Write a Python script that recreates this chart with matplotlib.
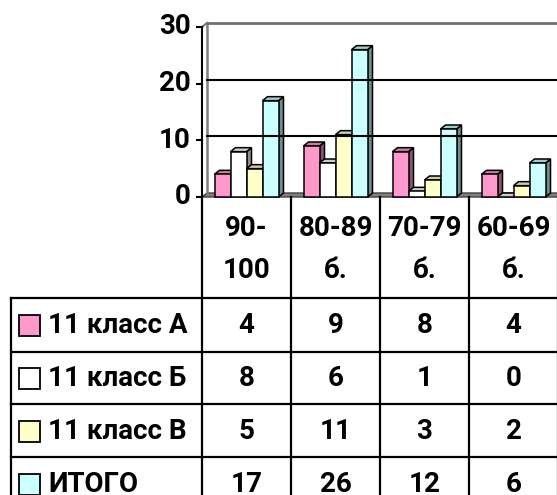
import matplotlib
matplotlib.use("Agg")
import matplotlib.pyplot as plt
from matplotlib.patches import Polygon, Rectangle

plt.rcParams['font.family'] = ['Roboto', 'DejaVu Sans']
plt.rcParams['font.weight'] = 'bold'

categories = ["90-\n100", "80-89\nб.", "70-79\nб.", "60-69\nб."]
series_names = ["11 класс А", "11 класс Б", "11 класс В", "ИТОГО"]
klass_a = [4, 9, 8, 4]
klass_b = [8, 6, 1, 0]
klass_v = [5, 11, 3, 2]
itogo = [17, 26, 12, 6]
colors = ["#FF99CC", "#FFFFFF", "#FFFFCC", "#CCFFFF"]
yticks = [0, 10, 20, 30]

series = [klass_a, klass_b, klass_v, itogo]
FS = 20

W, H = 557, 495
fig = plt.figure(figsize=(W / 100, H / 100), dpi=100)

# pixel geometry (top-left origin)
x_left, col_w = 202, 89
y0_px, y30_px = 197, 27
ax = fig.add_axes([x_left / W, 1 - y0_px / H, 4 * col_w / W, (y0_px - y30_px) / H])
ax.set_xlim(-0.5, 3.5)
ax.set_ylim(0, 30)
ax.axis('off')

px_x = 1 / col_w                  # data units per pixel, x
px_y = 30 / (y0_px - y30_px)      # data units per pixel, y
dx, dy = 5 * px_x, 4 * px_y


def shade(c, f):
    c = matplotlib.colors.to_rgb(c)
    return tuple(v * f for v in c)


# back wall and floor
wall_top = 30 + dy
ax.add_patch(Polygon([(-0.5, 0), (-0.5 + dx, dy), (3.6, dy), (3.6, 0)],
                     closed=True, fc="#808080", ec="#404040", lw=1.0, clip_on=False))
ax.plot([-0.5 + dx, -0.5 + dx], [dy, wall_top], color="#808080", lw=1.8, clip_on=False)
ax.plot([-0.5, -0.5 + dx], [30, wall_top], color="#808080", lw=1.5, clip_on=False)
ax.plot([-0.5 + dx, 3.6], [wall_top, wall_top], color="#707070", lw=2.0, clip_on=False)
for v in yticks[1:-1]:
    ax.plot([-0.5 + dx, 3.6], [v + dy, v + dy], color="black", lw=1.5, clip_on=False)

# front axis line and ticks
ax.plot([-0.5, -0.5], [0, 30], color="black", lw=1.5, clip_on=False)
for v in yticks:
    ax.plot([-0.5 - 5 * px_x, -0.5], [v, v], color="black", lw=1.5, clip_on=False)
    ax.text(-0.5 - 11 * px_x, v, str(v), ha='right', va='center',
            fontsize=FS, fontweight='bold')

# 3D bars
bw = 16 * px_x
for i in range(len(categories)):
    for j, vals in enumerate(series):
        x0 = i - 2 * bw + j * bw
        x1 = x0 + bw
        h = vals[i]
        c = colors[j]
        side = [(x1, 0), (x1 + dx, dy), (x1 + dx, h + dy), (x1, h)]
        top = [(x0, h), (x0 + dx, h + dy), (x1 + dx, h + dy), (x1, h)]
        ax.add_patch(Polygon(side, closed=True, fc=shade(c, 0.55), ec="black", lw=1.1, clip_on=False))
        ax.add_patch(Polygon(top, closed=True, fc=shade(c, 0.8), ec="black", lw=1.1, clip_on=False))
        if h > 0:
            ax.add_patch(Rectangle((x0, 0), bw, h, fc=c, ec="black", lw=1.1, clip_on=False))

# data table drawn in pixel coordinates
ov = fig.add_axes([0, 0, 1, 1])
ov.set_xlim(0, W)
ov.set_ylim(H, 0)
ov.axis('off')
ov.patch.set_alpha(0)

row_lines = [298, 352, 404, 457]
row_h = 53
col_x = [x_left + k * col_w for k in range(5)]
lw_t = 1.6
for x in col_x:
    ov.plot([x, x], [y0_px, H + 5], color="black", lw=lw_t, clip_on=False)
ov.plot([11, 11], [row_lines[0], H + 5], color="black", lw=lw_t, clip_on=False)
for y in row_lines:
    ov.plot([11, col_x[-1]], [y, y], color="black", lw=lw_t, clip_on=False)

for i, cat in enumerate(categories):
    top_line, bottom_line = cat.split("\n")
    cx = col_x[i] + col_w / 2
    ov.text(cx, 228, top_line, ha='center', va='center', fontsize=FS, fontweight='bold')
    ov.text(cx, 270, bottom_line, ha='center', va='center', fontsize=FS, fontweight='bold')

for j, (name, vals) in enumerate(zip(series_names, series)):
    cy = row_lines[0] + row_h * j + row_h / 2
    ov.add_patch(Rectangle((19, cy - 10), 21, 21, fc=colors[j], ec="black", lw=1.3))
    ov.text(48, cy + 1, name, ha='left', va='center', fontsize=FS, fontweight='bold')
    for i, v in enumerate(vals):
        ov.text(col_x[i] + col_w / 2, cy + 1, str(v), ha='center', va='center',
                fontsize=FS, fontweight='bold')

fig.savefig("out.png", dpi=100)
